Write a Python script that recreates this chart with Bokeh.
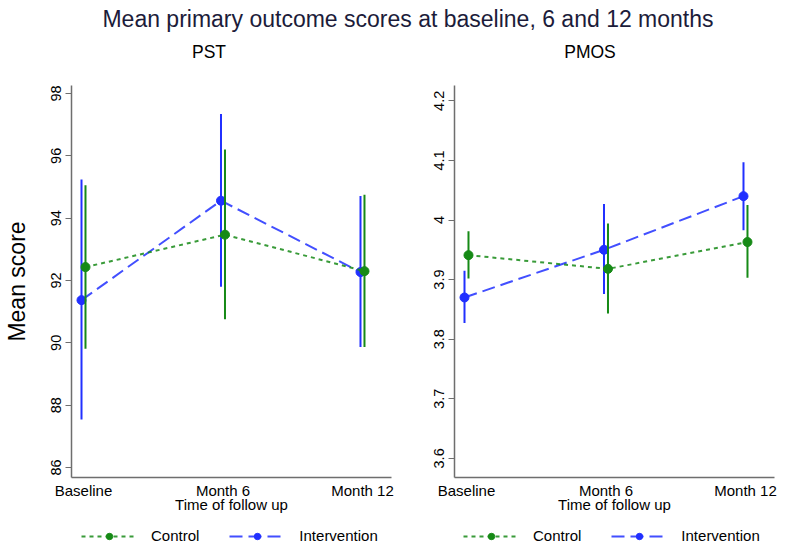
from bokeh.plotting import figure
from bokeh.models import ColumnDataSource, FixedTicker, Legend, LegendItem, Range1d, Div
from bokeh.layouts import row, column
from bokeh.embed import file_html
from bokeh.resources import INLINE

# ---------------- data ----------------
categories = ["Baseline", "Month 6", "Month 12"]

pst_control_mean = [92.43, 93.47, 92.30]
pst_control_lo = [89.81, 90.76, 89.87]
pst_control_hi = [95.06, 96.20, 94.75]
pst_interv_mean = [91.37, 94.56, 92.27]
pst_interv_lo = [87.54, 91.80, 89.87]
pst_interv_hi = [95.24, 97.34, 94.71]

pmos_control_mean = [3.941, 3.918, 3.963]
pmos_control_lo = [3.902, 3.843, 3.903]
pmos_control_hi = [3.981, 3.994, 4.025]
pmos_interv_mean = [3.870, 3.950, 4.040]
pmos_interv_lo = [3.827, 3.876, 3.983]
pmos_interv_hi = [3.915, 4.027, 4.097]

pst_ticks = [86, 88, 90, 92, 94, 96, 98]
pst_tick_labels = ["86", "88", "90", "92", "94", "96", "98"]
pmos_ticks = [3.6, 3.7, 3.8, 3.9, 4.0, 4.1, 4.2]
pmos_tick_labels = ["3.6", "3.7", "3.8", "3.9", "4", "4.1", "4.2"]

series_names = ["Control", "Intervention"]
panel_titles = ["PST", "PMOS"]
title_text = "Mean primary outcome scores at baseline, 6 and 12 months"
x_title = "Time of follow up"
y_title = "Mean score"

# ---------------- style ----------------
FONT = "Liberation Sans"
GREEN = "#168a16"
BLUE = "#2130ff"
AXIS = "#6e6e6e"
DODGE = 0.0143
BLUE_DASH = "13 6"
GREEN_DASH = "4 4"

xpos = [i + 1 for i in range(len(categories))]


def make_panel(cmean, clo, chi, imean, ilo, ihi, yr, yticks, ylabels,
               ylabel, left, right):
    p = figure(frame_width=320, frame_height=392, output_backend="svg", toolbar_location=None,
               title=None,
               x_range=Range1d(0.914, 3.208), y_range=Range1d(*yr),
               min_border_left=left, min_border_right=right,
               min_border_top=10, min_border_bottom=40)
    p.outline_line_color = None
    p.grid.visible = False
    p.background_fill_color = "white"
    p.border_fill_color = "white"

    xb = [x - DODGE for x in xpos]
    xg = [x + DODGE for x in xpos]
    sb = ColumnDataSource(dict(x=xb, m=imean, lo=ilo, hi=ihi))
    sg = ColumnDataSource(dict(x=xg, m=cmean, lo=clo, hi=chi))

    p.segment(x0="x", y0="lo", x1="x", y1="hi", source=sb, line_color=BLUE, line_width=2)
    p.line("x", "m", source=sb, line_color=BLUE, line_width=2, line_dash=BLUE_DASH, line_alpha=0.85)
    p.scatter("x", "m", source=sb, size=9, fill_color=BLUE, line_color=BLUE)

    p.segment(x0="x", y0="lo", x1="x", y1="hi", source=sg, line_color=GREEN, line_width=2)
    p.line("x", "m", source=sg, line_color=GREEN, line_width=2, line_dash=GREEN_DASH, line_alpha=0.85)
    p.scatter("x", "m", source=sg, size=9, fill_color=GREEN, line_color=GREEN)

    # x axis
    xa = p.xaxis[0]
    xa.ticker = FixedTicker(ticks=xpos)
    xa.major_label_overrides = {x: c for x, c in zip(xpos, categories)}
    xa.major_tick_out = 0
    xa.major_tick_in = 0
    xa.minor_tick_out = 0
    xa.minor_tick_in = 0
    xa.axis_line_color = AXIS
    xa.axis_line_width = 1.5
    xa.major_label_text_font = FONT
    xa.major_label_text_font_size = "15px"
    xa.major_label_text_color = "black"
    xa.major_label_standoff = 4
    xa.axis_label = x_title
    xa.axis_label_text_font = FONT
    xa.axis_label_text_font_size = "15px"
    xa.axis_label_text_font_style = "normal"
    xa.axis_label_text_color = "black"
    xa.axis_label_standoff = -6

    # y axis
    ya = p.yaxis[0]
    ya.ticker = FixedTicker(ticks=yticks)
    ya.major_label_overrides = {t: l for t, l in zip(yticks, ylabels)}
    ya.major_label_orientation = "vertical"
    ya.major_tick_out = 6
    ya.major_tick_in = 0
    ya.minor_tick_out = 0
    ya.minor_tick_in = 0
    ya.axis_line_color = AXIS
    ya.axis_line_width = 1.5
    ya.major_tick_line_color = AXIS
    ya.major_label_text_font = FONT
    ya.major_label_text_font_size = "14.5px"
    ya.major_label_text_color = "black"
    ya.major_label_standoff = 4
    if ylabel:
        ya.axis_label = ylabel
        ya.axis_label_text_font = FONT
        ya.axis_label_text_font_size = "23px"
        ya.axis_label_text_font_style = "normal"
        ya.axis_label_text_color = "black"
        ya.axis_label_standoff = 19
    return p


p1 = make_panel(pst_control_mean, pst_control_lo, pst_control_hi,
                pst_interv_mean, pst_interv_lo, pst_interv_hi,
                (85.679, 98.257), pst_ticks, pst_tick_labels, y_title,
                69, 11)
p2 = make_panel(pmos_control_mean, pmos_control_lo, pmos_control_hi,
                pmos_interv_mean, pmos_interv_lo, pmos_interv_hi,
                (3.5679, 4.2257), pmos_ticks, pmos_tick_labels, None,
                52, 28)

# ---------------- legend strip (one legend under each panel) ----------------
lp = figure(width=800, height=27, output_backend="svg", toolbar_location=None, title=None,
            x_range=Range1d(0, 1), y_range=Range1d(0, 1),
            x_axis_location=None, y_axis_location=None,
            min_border_left=0, min_border_right=0, min_border_top=0, min_border_bottom=0)
lp.outline_line_color = None
lp.grid.visible = False
# legend-key renderers kept outside the visible range so only the legend keys show
off = ColumnDataSource(dict(x=[5, 6], y=[5, 5]))
klg = lp.line("x", "y", source=off, line_color=GREEN, line_width=2, line_dash=GREEN_DASH, line_alpha=0.85)
kcg = lp.scatter("x", "y", source=off, size=9, fill_color=GREEN, line_color=GREEN)
klb = lp.line("x", "y", source=off, line_color=BLUE, line_width=2, line_dash=BLUE_DASH, line_alpha=0.85)
kcb = lp.scatter("x", "y", source=off, size=9, fill_color=BLUE, line_color=BLUE)

for lx in (81, 463):
    lg = Legend(items=[LegendItem(label=series_names[0], renderers=[klg, kcg]),
                       LegendItem(label=series_names[1], renderers=[klb, kcb])],
                orientation="horizontal", location=(lx, 0),
                margin=0, padding=0, spacing=30,
                glyph_width=56, glyph_height=16, label_height=16,
                label_standoff=14, border_line_color=None,
                background_fill_alpha=0,
                label_text_font=FONT, label_text_font_size="15px",
                label_text_color="black")
    lp.add_layout(lg, "center")


def abs_text(txt, cx, top, size, color, w=400):
    return ('<div style="position:absolute;left:%dpx;top:%.1fpx;width:%dpx;text-align:center;'
            'font-family:\'Liberation Sans\';font-size:%spx;line-height:%spx;color:%s;'
            'white-space:nowrap;">%s</div>' % (cx - w // 2, top, w, size, size, color, txt))


head_html = ('<div style="position:relative;width:800px;height:75px;">'
             + abs_text(title_text, 408, 7.5, 23, "#1c1c3a", w=780)
             + abs_text(panel_titles[0], 209, 44.2, 17.5, "#000000")
             + abs_text(panel_titles[1], 590, 44.2, 17.5, "#000000")
             + '</div>')
head = Div(text=head_html, width=800, height=75, margin=0)

layout = column(head, row(p1, p2), lp)

open("out.html", "w").write(file_html(layout, INLINE))
